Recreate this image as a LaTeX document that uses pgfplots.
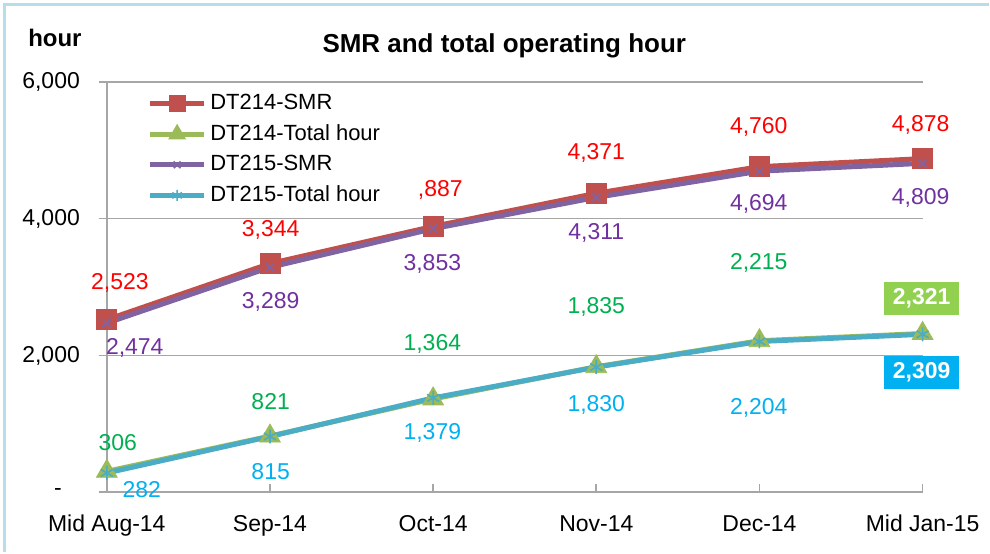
\documentclass[border=0pt]{standalone}
\usepackage{pgfplots}
\pgfplotsset{compat=1.18}
\usepackage{fontspec}
\setmainfont{Liberation Sans}
\definecolor{cSMR}{HTML}{C0504D}
\definecolor{cTot}{HTML}{9BBB59}
\definecolor{cSMR2}{HTML}{8064A2}
\definecolor{cTot2}{HTML}{4BACC6}
\definecolor{lRed}{HTML}{FF0000}
\definecolor{lGreen}{HTML}{00B050}
\definecolor{lPurple}{HTML}{7030A0}
\definecolor{lCyan}{HTML}{00B0F0}
\definecolor{boxGreen}{HTML}{92D050}
\definecolor{frameBlue}{HTML}{B7DDE8}
\definecolor{gridGray}{HTML}{A6A6A6}
\begin{document}
\begin{tikzpicture}
\path (0,0) rectangle (495pt,-276.5pt);
\draw[frameBlue,line width=1.5pt] (2.5pt,-276.5pt) -- (2.5pt,-2.5pt) -- (495pt,-2.5pt);
\node[font=\fontsize{12}{14}\selectfont\bfseries] at (27.5pt,-19pt) {hour};
\node[font=\fontsize{13}{15}\selectfont\bfseries] at (252.5pt,-23pt) {SMR and total operating hour};
\begin{axis}[at={(53.5pt,-246.5pt)},anchor=south west,scale only axis,
  width=408.5pt,height=205.5pt,
  xmin=0,xmax=5,ymin=0,ymax=6000,clip=false,
  axis x line*=bottom,axis y line*=left,
  axis line style={gridGray,line width=0.8pt},
  ymajorgrids,grid style={gridGray,line width=0.8pt},
  xtick={0,1,2,3,4,5},
  xticklabels={Mid Aug-14,Sep-14,Oct-14,Nov-14,Dec-14,Mid Jan-15},
  ytick={0,2000,4000,6000},
  yticklabels={{\raisebox{-2pt}{-}\kern9pt},{2,000},{4,000},{6,000}},
  major tick length=4pt,
  tick style={gridGray,line width=0.8pt},
  xtick align=inside,
  ytick align=outside,
  tick label style={font=\fontsize{11.5}{13}\selectfont},
  xticklabel style={yshift=-8pt},
  yticklabel style={xshift=-6pt},
  legend style={at={(0.045,0.985)},anchor=north west,draw=none,fill=white,
    font=\fontsize{11}{12}\selectfont,row sep=2pt,inner xsep=2pt,inner ysep=1pt},
  legend cell align=left,
  legend image code/.code={\draw[mark repeat=2,mark phase=2,every mark/.append style={scale=0.8}] plot coordinates {(0cm,0cm) (0.47cm,0cm) (0.94cm,0cm)};},
]
\addplot[cSMR,line width=2.5pt,mark=square*,mark size=5pt,mark options={solid,line width=0.4pt}] coordinates {(0,2523) (1,3344) (2,3887) (3,4371) (4,4760) (5,4878)};
\addlegendentry{DT214-SMR}
\addplot[cTot,line width=2.5pt,mark=triangle*,mark size=6pt,mark options={line width=0.4pt}] coordinates {(0,306) (1,821) (2,1364) (3,1835) (4,2215) (5,2321)};
\addlegendentry{DT214-Total hour}
\addplot[cSMR2,line width=2.5pt,mark=x,mark size=3pt,mark options={line width=0.8pt}] coordinates {(0,2474) (1,3289) (2,3853) (3,4311) (4,4694) (5,4809)};
\addlegendentry{DT215-SMR}
\addplot[cTot2,line width=2.5pt,mark=asterisk,mark size=3.5pt,mark options={line width=0.8pt}] coordinates {(0,282) (1,815) (2,1379) (3,1830) (4,2204) (5,2309)};
\addlegendentry{DT215-Total hour}
\begin{scope}[every node/.style={font=\fontsize{11.5}{13}\selectfont}]
\node[lRed] at (axis cs:0.080,3066) {2,523};
\node[lRed] at (axis cs:1.004,3840) {3,344};
\node[lRed] at (axis cs:2.044,4424) {,887};
\node[lRed] at (axis cs:3.0,4964) {4,371};
\node[lRed] at (axis cs:3.996,5344) {4,760};
\node[lRed] at (axis cs:4.988,5373) {4,878};
\node[lPurple] at (axis cs:0.171,2117) {2,474};
\node[lPurple] at (axis cs:1.004,2789) {3,289};
\node[lPurple] at (axis cs:1.995,3343) {3,853};
\node[lPurple] at (axis cs:3.0,3796) {4,311};
\node[lPurple] at (axis cs:3.996,4219) {4,694};
\node[lPurple] at (axis cs:4.988,4307) {4,809};
\node[lGreen] at (axis cs:0.067,730) {306};
\node[lGreen] at (axis cs:1.004,1329) {821};
\node[lGreen] at (axis cs:1.995,2161) {1,364};
\node[lGreen] at (axis cs:3.0,2716) {1,835};
\node[lGreen] at (axis cs:3.996,3358) {2,215};
\node[lCyan] at (axis cs:0.214,44) {282};
\node[lCyan] at (axis cs:1.004,307) {815};
\node[lCyan] at (axis cs:1.995,861) {1,379};
\node[lCyan] at (axis cs:3.0,1270) {1,830};
\node[lCyan] at (axis cs:3.996,1226) {2,204};
\node[fill=boxGreen,text=white,font=\fontsize{11.5}{13}\selectfont\bfseries,minimum width=37.5pt,minimum height=16.5pt,inner sep=1pt] at (axis cs:4.994,2832) {2,321};
\node[fill=lCyan,text=white,font=\fontsize{11.5}{13}\selectfont\bfseries,minimum width=37.5pt,minimum height=16.5pt,inner sep=1pt] at (axis cs:4.994,1752) {2,309};
\end{scope}
\end{axis}
\end{tikzpicture}
\end{document}
